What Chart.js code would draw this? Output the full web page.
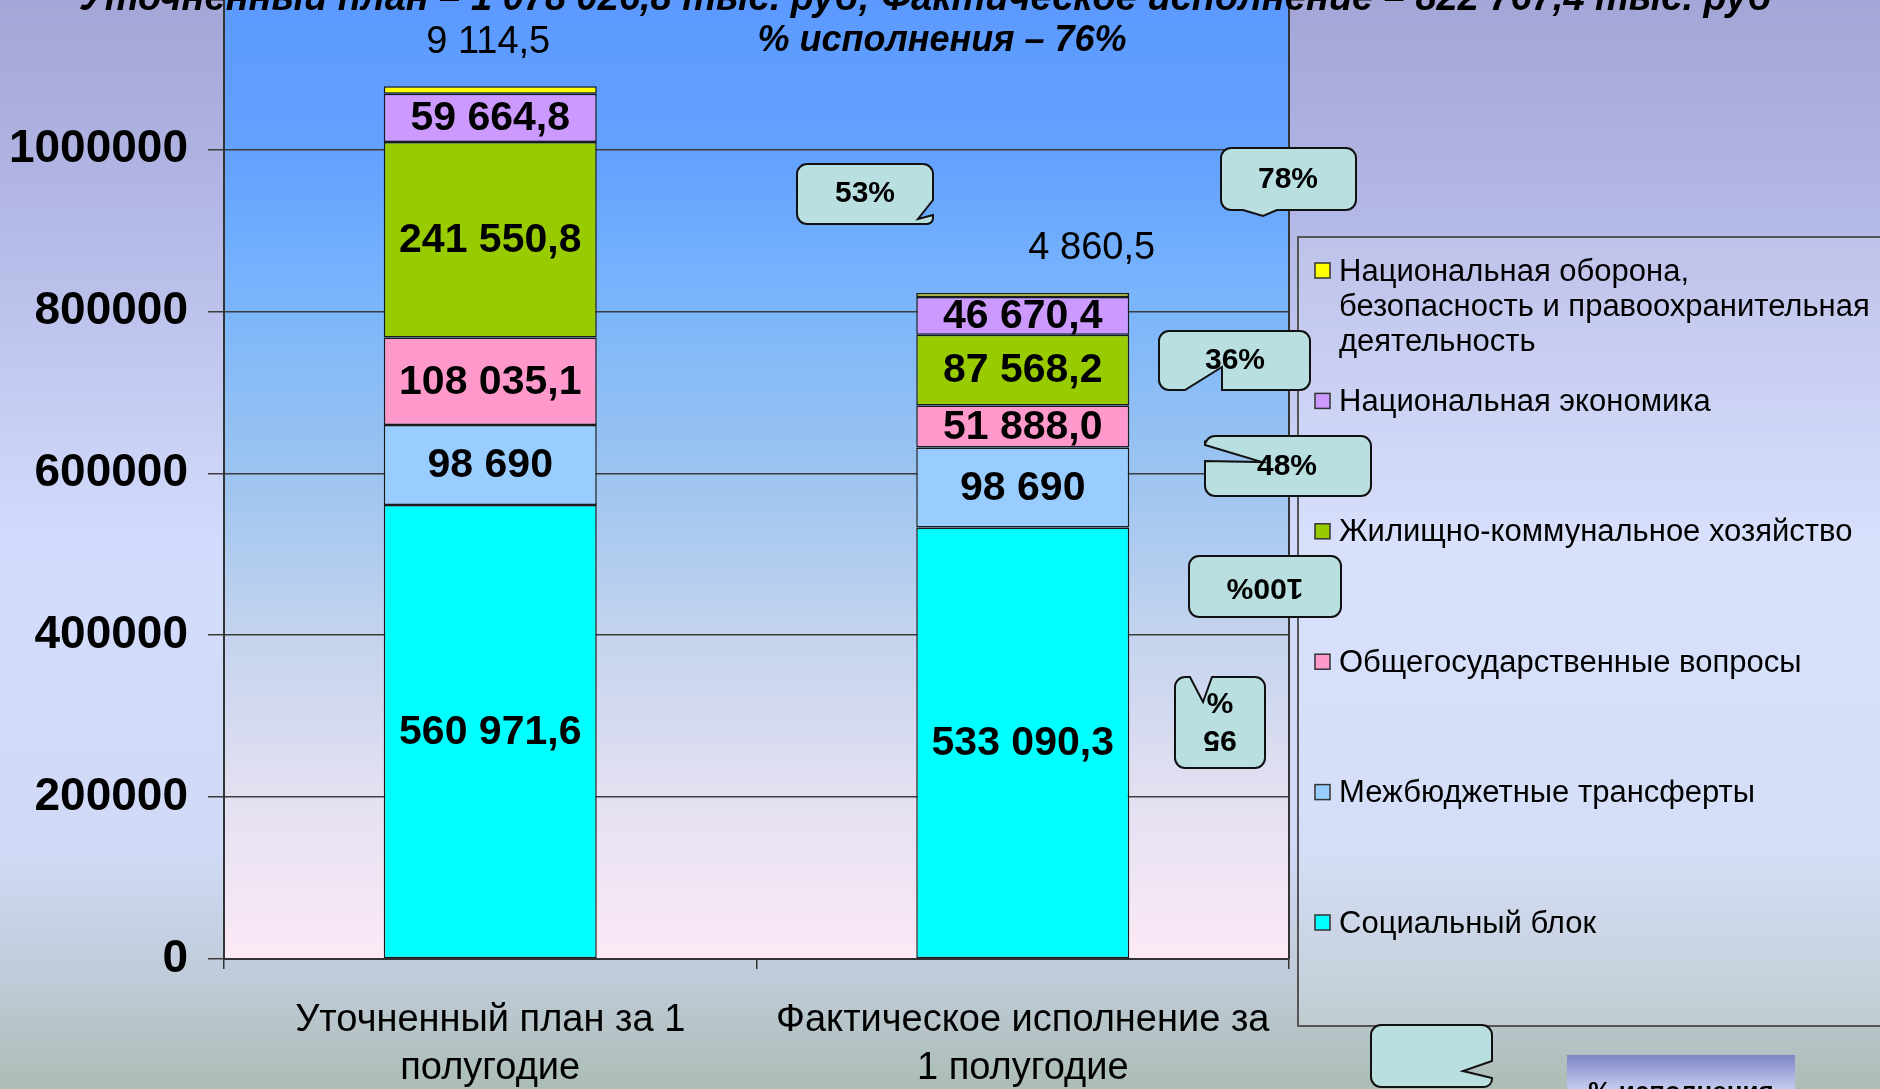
<!DOCTYPE html>
<html lang="ru">
<head>
<meta charset="utf-8">
<title>Исполнение расходов за 1 полугодие</title>
<script src="https://cdn.jsdelivr.net/npm/chart.js@4.4.1/dist/chart.umd.min.js"></script>
<style>
  html, body { margin: 0; padding: 0; width: 1880px; height: 1089px; overflow: hidden;
    background: linear-gradient(#a3a6d6, #b4b8e6 20%, #d3dcfc 50%, #d0daf6 78%, #bfcbd8 90%, #acbdb6); }
  #wrap { position: absolute; left: 0; top: -60px; width: 1880px; height: 1149px; }
  canvas { display: block; }
</style>
</head>
<body>
<div id="wrap"><canvas id="budget" width="1880" height="1149"></canvas></div>
<script>
// ---- data (тыс. руб.) ----
const categories = [
  ['Уточненный план за 1', 'полугодие'],
  ['Фактическое исполнение за', '1 полугодие']
];
const social    = [560971.6, 533090.3];
const transfers = [98690, 98690];
const general   = [108035.1, 51888.0];
const housing   = [241550.8, 87568.2];
const economy   = [59664.8, 46670.4];
const defense   = [9114.5, 4860.5];

const seriesNames = [
  'Социальный блок',
  'Межбюджетные трансферты',
  'Общегосударственные вопросы',
  'Жилищно-коммунальное хозяйство',
  'Национальная экономика',
  'Национальная оборона,\nбезопасность и правоохранительная\nдеятельность'
];
const seriesColors = ['#00ffff', '#99ccff', '#ff99cc', '#99cc00', '#cc99ff', '#ffff00'];
const yTicks = [0, 200000, 400000, 600000, 800000, 1000000, 1200000];

// ---- helpers ----
const SHIFT = 60; // canvas is moved up by this many pixels
function fmt(v, d) {
  const parts = v.toFixed(d).split('.');
  const g = parts[0].replace(/\B(?=(\d{3})+(?!\d))/g, ' ');
  return parts.length > 1 ? g + ',' + parts[1] : g;
}
function sum(arr) { return arr.reduce((a, b) => a + b, 0); }
function pct(arr) { return Math.round(arr[1] / arr[0] * 100) + '%'; }
const planTotal = sum([social[0], transfers[0], general[0], housing[0], economy[0], defense[0]]);
const factTotal = sum([social[1], transfers[1], general[1], housing[1], economy[1], defense[1]]);

function roundedPoly(ctx, pts) {
  const n = pts.length;
  const last = pts[n - 1], first = pts[0];
  ctx.beginPath();
  ctx.moveTo((last[0] + first[0]) / 2, (last[1] + first[1]) / 2);
  for (let i = 0; i < n; i++) {
    const p = pts[i], q = pts[(i + 1) % n];
    if (p[2] > 0) ctx.arcTo(p[0], p[1], q[0], q[1], p[2]);
    else ctx.lineTo(p[0], p[1]);
  }
  ctx.closePath();
}

// ---- plugins ----
const backdrop = {
  id: 'backdrop',
  beforeDraw(chart) {
    const { ctx, chartArea: a, width, height } = chart;
    ctx.save();
    const g = ctx.createLinearGradient(0, SHIFT, 0, height);
    g.addColorStop(0, '#a3a6d6');
    g.addColorStop(0.2, '#b4b8e6');
    g.addColorStop(0.5, '#d3dcfc');
    g.addColorStop(0.78, '#d0daf6');
    g.addColorStop(0.9, '#bfcbd8');
    g.addColorStop(1, '#acbdb6');
    ctx.fillStyle = g;
    ctx.fillRect(0, 0, width, height);
    const p = ctx.createLinearGradient(0, a.top, 0, a.bottom);
    p.addColorStop(0, '#5b99ff');
    p.addColorStop(0.17, '#62a1ff');
    p.addColorStop(0.33, '#7bb6fb');
    p.addColorStop(0.5, '#9cc4f0');
    p.addColorStop(0.66, '#c3d3ee');
    p.addColorStop(0.83, '#e3e0f1');
    p.addColorStop(1, '#fce9f6');
    ctx.fillStyle = p;
    ctx.fillRect(a.left, a.top, a.right - a.left, a.bottom - a.top);
    ctx.restore();
  },
  beforeDatasetsDraw(chart) {
    const { ctx, chartArea: a } = chart;
    ctx.save();
    ctx.strokeStyle = '#333';
    ctx.lineWidth = 2;
    ctx.beginPath();
    ctx.moveTo(a.right, a.top);
    ctx.lineTo(a.right, a.bottom);
    ctx.stroke();
    ctx.restore();
  }
};

const valueLabels = {
  id: 'valueLabels',
  afterDatasetsDraw(chart) {
    const ctx = chart.ctx;
    const aboveShift = [-2, 69];
    ctx.save();
    ctx.fillStyle = '#000';
    ctx.textAlign = 'center';
    ctx.textBaseline = 'middle';
    chart.data.datasets.forEach((ds, di) => {
      const meta = chart.getDatasetMeta(di);
      meta.data.forEach((bar, i) => {
        const txt = fmt(ds.data[i], ds.decimals);
        if (ds.labelAbove) {
          ctx.font = '38px "Liberation Sans", Arial, sans-serif';
          ctx.fillText(txt, bar.x + aboveShift[i], bar.y - 44);
        } else {
          ctx.font = 'bold 41px "Liberation Sans", Arial, sans-serif';
          ctx.fillText(txt, bar.x, (bar.y + bar.base) / 2 + 1);
        }
      });
    });
    ctx.restore();
  }
};

const overlay = {
  id: 'overlay',
  afterDraw(chart) {
    const ctx = chart.ctx;
    ctx.save();
    ctx.translate(0, SHIFT);

    // heading
    ctx.fillStyle = '#000';
    ctx.textAlign = 'center';
    ctx.textBaseline = 'alphabetic';
    ctx.font = 'italic bold 38px "Liberation Sans", Arial, sans-serif';
    ctx.fillText('Уточненный план – ' + fmt(planTotal, 1) + ' тыс. руб; Фактическое исполнение – ' +
      fmt(factTotal, 1) + ' тыс. руб', 925, 10);
    ctx.font = 'italic bold 36px "Liberation Sans", Arial, sans-serif';
    ctx.fillText('% исполнения – ' + Math.round(factTotal / planTotal * 100) + '%', 942, 51);

    // legend
    ctx.fillStyle = 'rgba(255,255,255,0.12)';
    ctx.fillRect(1298, 237, 600, 789);
    ctx.strokeStyle = '#555';
    ctx.lineWidth = 2;
    ctx.strokeRect(1298, 237, 600, 789);
    const ds = chart.data.datasets.slice().reverse();
    ctx.textAlign = 'left';
    ctx.textBaseline = 'middle';
    ctx.font = '31px "Liberation Sans", Arial, sans-serif';
    ds.forEach((d, i) => {
      const y = 271 + i * 130.4;
      ctx.fillStyle = d.backgroundColor;
      ctx.fillRect(1315, y - 8, 15, 15);
      ctx.strokeStyle = '#333';
      ctx.lineWidth = 1.5;
      ctx.strokeRect(1315, y - 8, 15, 15);
      ctx.fillStyle = '#000';
      d.label.split('\n').forEach((line, k) => ctx.fillText(line, 1339, y + 1 + k * 35));
    });

    // percentage callouts
    const callouts = [
      { t: [pct(defense)], x: 865, y: 194, pts: [[797,164,10],[933,164,10],[933,200,0],[918,219,0],[933,215,0],[933,224,6],[797,224,10]] },
      { t: [pct(economy)], x: 1288, y: 180, pts: [[1221,148,10],[1356,148,10],[1356,210,10],[1277,210,0],[1263,216,0],[1243,210,0],[1221,210,10]] },
      { t: [pct(housing)], x: 1235, y: 361, pts: [[1159,331,10],[1310,331,10],[1310,390,10],[1222,390,0],[1222,367,0],[1185,390,0],[1159,390,10]] },
      { t: [pct(general)], x: 1287, y: 467, pts: [[1205,436,10],[1371,436,10],[1371,496,10],[1205,496,10],[1205,461,0],[1262,462,0],[1205,445,0]] },
      { t: [pct(transfers)], x: 1265, y: 587, flip: true, pts: [[1189,556,10],[1341,556,10],[1341,617,10],[1189,617,10]] },
      { t: [pct(social).replace('%', ''), '%'], x: 1220, y: 720, flip: true, pts: [[1175,677,10],[1190,677,0],[1203,702,0],[1212,677,0],[1265,677,10],[1265,768,10],[1175,768,10]] },
      { t: [], x: 0, y: 0, pts: [[1371,1025,10],[1492,1025,10],[1492,1061,0],[1463,1071,0],[1492,1078,0],[1492,1087,8],[1371,1087,10]] }
    ];
    callouts.forEach(c => {
      roundedPoly(ctx, c.pts);
      ctx.fillStyle = '#b9dfe0';
      ctx.fill();
      ctx.strokeStyle = '#111';
      ctx.lineWidth = 2;
      ctx.stroke();
      if (!c.t.length) return;
      ctx.save();
      ctx.translate(c.x, c.y);
      if (c.flip) ctx.rotate(Math.PI);
      ctx.fillStyle = '#000';
      ctx.textAlign = 'center';
      ctx.textBaseline = 'middle';
      ctx.font = 'bold 30px "Liberation Sans", Arial, sans-serif';
      const lh = 38;
      c.t.forEach((line, k) => ctx.fillText(line, 0, (k - (c.t.length - 1) / 2) * lh));
      ctx.restore();
    });

    // caption tab in the corner
    const tg = ctx.createLinearGradient(0, 1055, 0, 1095);
    tg.addColorStop(0, '#7f86c6');
    tg.addColorStop(1, '#d0d8f8');
    ctx.fillStyle = tg;
    ctx.fillRect(1567, 1055, 228, 45);
    ctx.fillStyle = '#000';
    ctx.textAlign = 'center';
    ctx.textBaseline = 'alphabetic';
    ctx.font = 'bold 26px "Liberation Sans", Arial, sans-serif';
    ctx.fillText('% исполнения', 1681, 1100);

    ctx.restore();
  }
};

// ---- chart ----
const seriesData = [social, transfers, general, housing, economy, defense];
const datasets = seriesData.map((values, i) => ({
  label: seriesNames[i],
  data: values,
  backgroundColor: seriesColors[i],
  borderColor: '#1a1a1a',
  borderWidth: 1.5,
  borderSkipped: false,
  barPercentage: 0.4,
  categoryPercentage: 1.0,
  decimals: values === transfers ? 0 : 1,
  labelAbove: values === defense
}));

new Chart(document.getElementById('budget'), {
  type: 'bar',
  data: { labels: categories, datasets },
  options: {
    responsive: false,
    animation: false,
    devicePixelRatio: 1,
    layout: { padding: { top: 47, right: 591, bottom: 0, left: 0 } },
    plugins: { legend: { display: false }, tooltip: { enabled: false }, title: { display: false } },
    scales: {
      x: {
        stacked: true,
        grid: { drawOnChartArea: false, drawTicks: true, tickLength: 10, color: '#333', lineWidth: 1.5 },
        border: { color: '#333', width: 2 },
        ticks: {
          color: '#000', padding: 28, maxRotation: 0, autoSkip: false,
          font: { family: '"Liberation Sans", Arial, sans-serif', size: 38, lineHeight: 1.263 }
        },
        afterFit(s) { s.height = 130; }
      },
      y: {
        stacked: true,
        min: yTicks[0],
        max: yTicks[yTicks.length - 1],
        afterBuildTicks(s) { s.ticks = yTicks.map(v => ({ value: v })); },
        grid: { color: '#3c3c3c', lineWidth: 1.5, tickLength: 16 },
        border: { color: '#333', width: 2 },
        ticks: {
          color: '#000', padding: 20,
          font: { family: '"Liberation Sans", Arial, sans-serif', size: 46, weight: 'bold' },
          callback: v => String(v)
        },
        afterFit(s) { s.width = 224; }
      }
    }
  },
  plugins: [backdrop, valueLabels, overlay]
});
</script>
</body>
</html>
